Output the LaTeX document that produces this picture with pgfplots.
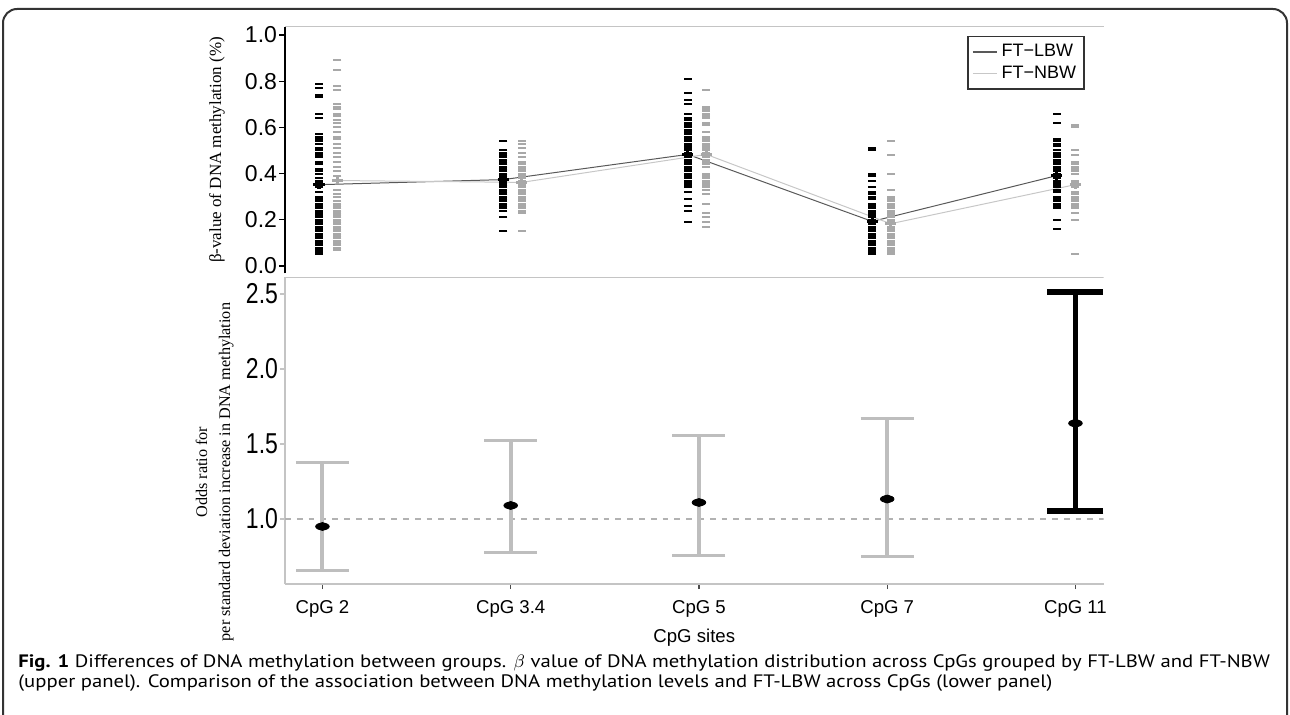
\documentclass[border=0pt]{standalone}
\usepackage{pgfplots}
\pgfplotsset{compat=1.18}
\usepackage{fontspec}
\setmainfont{Liberation Sans}
\newfontfamily\serifx{Liberation Serif}
\newfontfamily\capfont[FakeStretch=1.15]{PT Sans}
\definecolor{ptgray}{HTML}{A8A8A8}
\definecolor{bargray}{HTML}{BEBEBE}
\definecolor{axgray}{HTML}{C4C4C4}
\definecolor{framec}{HTML}{333333}

\begin{document}
\begin{tikzpicture}[x=1pt,y=1pt]
\useasboundingbox (0,0) rectangle (645,357);
\draw[framec, line width=1pt, rounded corners=7pt] (1.5,-10) -- (1.5,352.5) -- (643.5,352.5) -- (643.5,-10);

% upper panel: beta values by site
\begin{axis}[
  at={(142.5pt,220.35pt)}, anchor=south west,
  scale only axis, width=409.25pt, height=123.3pt,
  xmin=-0.184, xmax=4.254, ymin=-0.0317, ymax=1.036,
  axis x line=top, axis y line=left,
  x axis line style={axgray, line width=0.7pt, -},
  y axis line style={black, line width=0.7pt, -},
  xtick=\empty,
  ytick={0,0.2,0.4,0.6,0.8,1.0},
  ytick align=outside, major tick length=3pt,
  y tick style={black, line width=0.6pt},
  yticklabel style={font=\fontsize{11.5}{12}\selectfont, xshift=2.5pt,
    /pgf/number format/fixed, /pgf/number format/fixed zerofill,
    /pgf/number format/precision=1, /pgf/number format/assume math mode=true},
  ylabel={β-value of DNA methylation (\%)},
  ylabel style={font=\serifx\fontsize{8.5}{10}\selectfont, at={(axis description cs:-0.083,0.5)}, anchor=center},
  legend style={at={(0.977,0.9635)}, anchor=north east, draw=black!80, line width=0.6pt,
    font=\fontsize{9}{11}\selectfont, inner sep=2pt, row sep=-1pt, cells={anchor=west}},
  legend image code/.code={\draw[#1, line width=0.8pt] (0pt,0pt) -- (12pt,0pt);},
]
\addplot[color=black!65, line width=0.5pt] coordinates {(0,0.352) (1,0.374) (2,0.483) (3,0.193) (4,0.391)};
\addplot[color=black!22, line width=0.5pt] coordinates {(0.1,0.370) (1.1,0.362) (2.1,0.483) (3.1,0.183) (4.1,0.352)};
\legend{FT−LBW, FT−NBW}

% FT-LBW
\addplot[forget plot, only marks, mark=-, mark size=2pt, black, mark options={line width=1pt}] coordinates {
 (0,0.79) (0,0.77) (0,0.74) (0,0.73) (0,0.66) (0,0.64) (0,0.57) (0,0.56) (0,0.55) (0,0.54) (0,0.53) (0,0.51) (0,0.50) (0,0.49) (0,0.48) (0,0.47) (0,0.45) (0,0.44) (0,0.42) (0,0.41) (0,0.40) (0,0.38) (0,0.37) (0,0.36) (0,0.35) (0,0.34) (0,0.32) (0,0.30) (0,0.29) (0,0.28) (0,0.27) (0,0.26) (0,0.25) (0,0.24) (0,0.23) (0,0.22) (0,0.21) (0,0.20) (0,0.19) (0,0.18) (0,0.17) (0,0.16) (0,0.15) (0,0.14) (0,0.13) (0,0.12) (0,0.11) (0,0.10) (0,0.09) (0,0.08) (0,0.07) (0,0.06) (0,0.05)
 (1,0.54) (1,0.50) (1,0.49) (1,0.48) (1,0.47) (1,0.46) (1,0.45) (1,0.44) (1,0.43) (1,0.42) (1,0.41) (1,0.40) (1,0.39) (1,0.38) (1,0.37) (1,0.36) (1,0.35) (1,0.34) (1,0.33) (1,0.32) (1,0.31) (1,0.30) (1,0.29) (1,0.28) (1,0.27) (1,0.26) (1,0.25) (1,0.24) (1,0.21) (1,0.15)
 (2,0.81) (2,0.75) (2,0.72) (2,0.70) (2,0.66) (2,0.64) (2,0.63) (2,0.62) (2,0.61) (2,0.60) (2,0.59) (2,0.58) (2,0.57) (2,0.56) (2,0.55) (2,0.54) (2,0.53) (2,0.52) (2,0.51) (2,0.50) (2,0.49) (2,0.48) (2,0.47) (2,0.46) (2,0.45) (2,0.44) (2,0.43) (2,0.42) (2,0.41) (2,0.40) (2,0.39) (2,0.38) (2,0.37) (2,0.36) (2,0.35) (2,0.34) (2,0.32) (2,0.29) (2,0.26) (2,0.24) (2,0.19)
 (3,0.51) (3,0.50) (3,0.40) (3,0.39) (3,0.37) (3,0.34) (3,0.32) (3,0.31) (3,0.30) (3,0.29) (3,0.27) (3,0.26) (3,0.25) (3,0.24) (3,0.23) (3,0.22) (3,0.21) (3,0.20) (3,0.19) (3,0.18) (3,0.17) (3,0.16) (3,0.15) (3,0.14) (3,0.13) (3,0.12) (3,0.11) (3,0.10) (3,0.09) (3,0.08) (3,0.07) (3,0.06) (3,0.05)
 (4,0.66) (4,0.62) (4,0.55) (4,0.54) (4,0.53) (4,0.52) (4,0.50) (4,0.49) (4,0.48) (4,0.47) (4,0.46) (4,0.45) (4,0.44) (4,0.43) (4,0.42) (4,0.41) (4,0.40) (4,0.39) (4,0.38) (4,0.37) (4,0.36) (4,0.35) (4,0.34) (4,0.33) (4,0.32) (4,0.30) (4,0.29) (4,0.28) (4,0.27) (4,0.26) (4,0.25) (4,0.20) (4,0.16)
};
% FT-NBW
\addplot[forget plot, only marks, mark=-, mark size=2pt, ptgray, mark options={line width=1pt}] coordinates {
 (0.1,0.89) (0.1,0.85) (0.1,0.78) (0.1,0.76) (0.1,0.70) (0.1,0.69) (0.1,0.68) (0.1,0.66) (0.1,0.65) (0.1,0.63) (0.1,0.62) (0.1,0.60) (0.1,0.58) (0.1,0.56) (0.1,0.55) (0.1,0.53) (0.1,0.51) (0.1,0.49) (0.1,0.47) (0.1,0.45) (0.1,0.43) (0.1,0.41) (0.1,0.39) (0.1,0.37) (0.1,0.33) (0.1,0.31) (0.1,0.30) (0.1,0.28) (0.1,0.27) (0.1,0.26) (0.1,0.25) (0.1,0.24) (0.1,0.23) (0.1,0.22) (0.1,0.21) (0.1,0.20) (0.1,0.19) (0.1,0.18) (0.1,0.17) (0.1,0.16) (0.1,0.15) (0.1,0.14) (0.1,0.13) (0.1,0.12) (0.1,0.11) (0.1,0.10) (0.1,0.09) (0.1,0.08) (0.1,0.07)
 (1.1,0.54) (1.1,0.53) (1.1,0.51) (1.1,0.49) (1.1,0.47) (1.1,0.45) (1.1,0.44) (1.1,0.43) (1.1,0.42) (1.1,0.41) (1.1,0.40) (1.1,0.39) (1.1,0.38) (1.1,0.37) (1.1,0.36) (1.1,0.35) (1.1,0.34) (1.1,0.33) (1.1,0.32) (1.1,0.31) (1.1,0.30) (1.1,0.29) (1.1,0.28) (1.1,0.27) (1.1,0.26) (1.1,0.25) (1.1,0.24) (1.1,0.23) (1.1,0.15)
 (2.1,0.76) (2.1,0.69) (2.1,0.68) (2.1,0.67) (2.1,0.66) (2.1,0.65) (2.1,0.64) (2.1,0.62) (2.1,0.61) (2.1,0.58) (2.1,0.56) (2.1,0.55) (2.1,0.54) (2.1,0.53) (2.1,0.52) (2.1,0.51) (2.1,0.50) (2.1,0.49) (2.1,0.48) (2.1,0.47) (2.1,0.46) (2.1,0.45) (2.1,0.44) (2.1,0.43) (2.1,0.40) (2.1,0.39) (2.1,0.38) (2.1,0.37) (2.1,0.36) (2.1,0.35) (2.1,0.34) (2.1,0.33) (2.1,0.31) (2.1,0.27) (2.1,0.23) (2.1,0.21) (2.1,0.19) (2.1,0.17)
 (3.1,0.54) (3.1,0.48) (3.1,0.40) (3.1,0.33) (3.1,0.30) (3.1,0.29) (3.1,0.28) (3.1,0.27) (3.1,0.26) (3.1,0.25) (3.1,0.24) (3.1,0.23) (3.1,0.22) (3.1,0.21) (3.1,0.20) (3.1,0.19) (3.1,0.18) (3.1,0.17) (3.1,0.16) (3.1,0.15) (3.1,0.14) (3.1,0.13) (3.1,0.12) (3.1,0.11) (3.1,0.10) (3.1,0.09) (3.1,0.08) (3.1,0.07) (3.1,0.06) (3.1,0.05)
 (4.1,0.61) (4.1,0.60) (4.1,0.50) (4.1,0.48) (4.1,0.45) (4.1,0.44) (4.1,0.43) (4.1,0.42) (4.1,0.41) (4.1,0.40) (4.1,0.37) (4.1,0.36) (4.1,0.35) (4.1,0.34) (4.1,0.32) (4.1,0.31) (4.1,0.30) (4.1,0.29) (4.1,0.28) (4.1,0.27) (4.1,0.26) (4.1,0.25) (4.1,0.23) (4.1,0.20) (4.1,0.05)
};
% group means
\addplot[forget plot, only marks, mark=+, mark size=2.8pt, black, mark options={line width=1.6pt, yscale=0.7}]
  coordinates {(0,0.352) (1,0.374) (2,0.483) (3,0.193) (4,0.391)};
\addplot[forget plot, only marks, mark=+, mark size=2.8pt, ptgray, mark options={line width=1.6pt, yscale=0.7}]
  coordinates {(0.1,0.370) (1.1,0.362) (2.1,0.483) (3.1,0.183) (4.1,0.352)};
\end{axis}

% lower panel: odds ratios
\begin{axis}[
  at={(142.5pt,65pt)}, anchor=south west,
  scale only axis, width=409.25pt, height=153.35pt,
  xmin=-0.199, xmax=4.149, ymin=0.5667, ymax=2.611,
  axis x line=bottom, axis y line=left,
  axis line style={axgray, line width=0.7pt, -},
  xtick={0,1,2,3,4},
  xticklabels={CpG 2, CpG 3.4, CpG 5, CpG 7, CpG 11},
  ytick={1,1.5,2,2.5},
  tick align=outside, major tick length=2.5pt,
  x tick style={black!70, line width=0.6pt},
  y tick style={axgray, line width=0.7pt},
  xticklabel style={font=\fontsize{9.3}{10}\selectfont, yshift=-2pt},
  yticklabel style={font=\fontsize{11.5}{12}\selectfont, yscale=1.25, xshift=2.5pt,
    /pgf/number format/fixed, /pgf/number format/fixed zerofill,
    /pgf/number format/precision=1, /pgf/number format/assume math mode=true},
  xlabel={CpG sites},
  xlabel style={font=\fontsize{9.3}{10}\selectfont, at={(axis description cs:0.5,0)}, anchor=center, yshift=-27pt},
  ylabel={Odds ratio for\\per standard deviation increase in DNA methylation},
  ylabel style={font=\serifx\fontsize{8.1}{11.5}\selectfont, align=center, at={(axis description cs:-0.086,0.365)}, anchor=center},
]
\draw[axgray, line width=0.7pt] (rel axis cs:0,1) -- (rel axis cs:1,1);
\addplot[forget plot, color=black!30, dash pattern=on 2.9pt off 3pt, line width=0.6pt]
  coordinates {(-0.199,1) (4.149,1)};
\addplot[forget plot, only marks, mark=none,
  error bars/.cd, y dir=both, y explicit,
  error bar style={bargray, line width=2pt},
  error mark=|, error mark options={bargray, line width=1.5pt, mark size=13.25pt}]
  coordinates {
   (0,0.950) += (0,0.427) -= (0,0.293)
   (1,1.090) += (0,0.435) -= (0,0.313)
   (2,1.110) += (0,0.449) -= (0,0.353)
   (3,1.133) += (0,0.537) -= (0,0.381)
  };
\addplot[forget plot, only marks, mark=none,
  error bars/.cd, y dir=both, y explicit,
  error bar style={black, line width=2.5pt},
  error mark=|, error mark options={black, line width=3pt, mark size=14pt}]
  coordinates {(4,1.638) += (0,0.872) -= (0,0.588)};
\addplot[forget plot, only marks, mark=*, mark size=1.7pt, black, mark options={xscale=2}]
  coordinates {(0,0.950) (1,1.090) (2,1.110) (3,1.133) (4,1.638)};
\end{axis}

\node[anchor=base west, inner sep=0, font=\capfont\fontsize{9}{10}\selectfont] at (9,23.3)
  {\textbf{Fig. 1} Differences of DNA methylation between groups. $\beta$ value of DNA methylation distribution across CpGs grouped by FT-LBW and FT-NBW};
\node[anchor=base west, inner sep=0, font=\capfont\fontsize{9}{10}\selectfont] at (9,13.3)
  {(upper panel). Comparison of the association between DNA methylation levels and FT-LBW across CpGs (lower panel)};
\end{tikzpicture}
\end{document}
